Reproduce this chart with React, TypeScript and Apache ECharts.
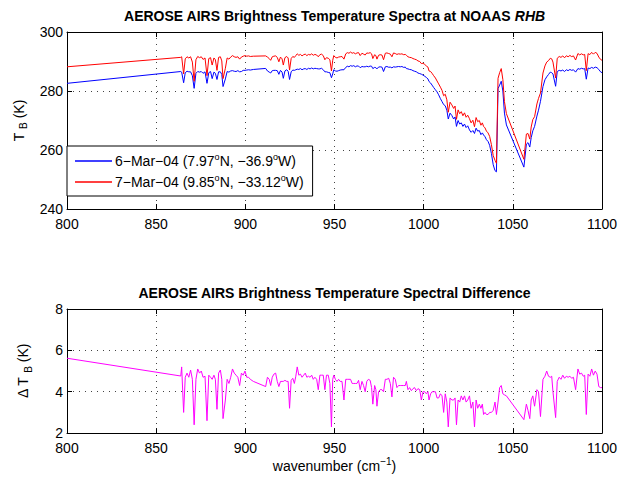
import React, { useEffect, useRef } from 'react';
import * as echarts from 'echarts';

// Wavenumber channels (cm^-1)
const wavenumber = [
  // 800 – 911
  800, 863.8, 864.3, 865.4, 866.3, 867.3, 868.3, 869.3, 870.3, 871.3,
  872.3, 873.3, 874.3, 875.3, 876.3, 877.4, 878.5, 879.5, 880.5, 881.4,
  882.4, 883.2, 884.1, 885.0, 886.0, 886.8, 887.5, 888.8, 889.8, 890.8,
  891.8, 892.8, 893.8, 894.8, 895.8, 896.8, 897.8, 898.8, 899.8, 900.8,
  901.8, 902.8, 904.5, 911.4,
  // 912 – 956
  912.4, 913.4, 914.2, 915.1, 916.0, 917.0, 917.9, 918.8, 919.7, 920.6,
  921.3, 922.2, 923.2, 924.0, 924.8, 925.7, 926.6, 927.5, 928.3, 929.1,
  930.0, 930.9, 931.8, 932.7, 933.6, 934.5, 935.4, 936.3, 937.2, 938.1,
  939.0, 940.0, 940.9, 941.8, 942.7, 943.7, 944.6, 945.5, 946.5, 947.4,
  948.3, 949.0, 949.6, 950.5, 951.4, 952.3, 953.2, 954.2, 955.3, 956.3,
  // 957 – 1000
  957.2, 958.1, 959.0, 959.9, 960.8, 961.7, 962.6, 963.5, 964.4, 965.4,
  966.3, 967.2, 968.1, 969.0, 970.0, 970.8, 971.5, 972.5, 973.2, 973.8,
  974.7, 975.6, 976.6, 977.5, 978.5, 979.4, 980.4, 981.3, 982.2, 983.1,
  984.1, 985.0, 985.9, 986.9, 987.8, 988.8, 989.7, 990.3, 991.2, 992.1,
  993.1, 994.0, 994.9, 995.9, 996.8, 997.8, 998.7, 999.6,
  // 1000 – 1046
  1000.6, 1001.5, 1002.4, 1003.0, 1003.9, 1004.7, 1005.6, 1006.6, 1007.5, 1008.4,
  1009.4, 1010.3, 1011.2, 1012.1, 1013.0, 1013.8, 1014.8, 1015.8, 1016.8, 1017.6,
  1018.4, 1019.3, 1020.2, 1021.1, 1022.0, 1022.9, 1023.8, 1024.7, 1025.7, 1026.6,
  1027.6, 1028.5, 1029.4, 1030.3, 1031.2, 1032.1, 1032.9, 1033.6, 1034.4, 1035.2,
  1036.1, 1037.0, 1038.0, 1039.0, 1040.0, 1040.8, 1041.7, 1042.6, 1043.5, 1044.4,
  1045.3, 1046.4,
  // 1056 – 1100
  1056.2, 1057.6, 1058.5, 1059.5, 1060.3, 1061.2, 1062.2, 1063.5, 1064.4, 1065.5,
  1066.9, 1068.0, 1069.0, 1070.0, 1071.0, 1071.8, 1072.5, 1074.0, 1074.9, 1076.0,
  1077.0, 1078.0, 1079.0, 1080.0, 1081.0, 1082.0, 1083.0, 1084.0, 1085.2, 1086.5,
  1087.5, 1088.5, 1089.5, 1090.3, 1091.2, 1092.2, 1093.2, 1094.2, 1095.2, 1096.2,
  1097.2, 1098.2, 1099.2, 1100,
];

// 6-Mar-04 brightness temperature (K), blue
const tb6Mar = [
  282.6, 286.6, 286.4, 282.8, 286.2, 286.7, 286.5, 286.5, 285.2, 280.9,
  286.0, 286.6, 286.4, 286.6, 286.0, 286.5, 282.6, 286.2, 286.6, 284.2,
  286.4, 286.0, 283.9, 286.5, 286.5, 285.6, 281.5, 284.1, 286.6, 286.4,
  286.8, 286.9, 286.7, 286.6, 286.9, 286.5, 286.6, 287.0, 287.0, 287.1,
  287.2, 287.1, 287.3, 287.65,
  286.8, 286.4, 286.1, 286.9, 287.0, 287.0, 286.9, 285.65, 287.0, 286.4,
  284.3, 286.8, 287.2, 286.7, 283.9, 286.5, 287.1, 287.0, 287.2, 287.4,
  287.3, 287.6, 287.2, 287.5, 287.6, 287.3, 287.7, 287.5, 287.8, 287.5,
  287.7, 287.6, 287.5, 287.5, 287.7, 287.2, 286.5, 286.5, 286.3, 286.2,
  284.5, 285.8, 287.2, 286.8, 286.7, 286.9, 287.1, 287.2, 287.2, 288.0,
  288.4, 288.2, 288.6, 288.4, 288.6, 288.2, 288.5, 288.45, 287.9, 288.3,
  288.2, 288.2, 288.4, 288.2, 288.45, 288.4, 287.6, 288.0, 287.9, 287.5,
  288.1, 288.2, 288.1, 286.6, 288.2, 288.3, 288.05, 288.1, 287.85, 288.2,
  288.1, 288.2, 288.3, 288.2, 288.3, 288.0, 288.1, 287.6, 287.5, 287.3,
  287.2, 286.9, 286.7, 286.5, 286.1, 285.9, 285.7, 285.4,
  285.0, 284.6, 284.1, 283.2, 282.7, 282.0, 281.2, 280.4, 279.7, 278.7,
  277.4, 276.4, 275.4, 275.0, 273.5, 270.5, 272.5, 271.7, 270.5, 271.2,
  268.0, 270.0, 268.8, 269.2, 268.0, 268.8, 267.6, 268.2, 266.8, 266.0,
  266.6, 265.6, 267.4, 266.4, 266.6, 265.2, 265.8, 265.1, 264.5, 263.5,
  262.9, 261.6, 258.8, 255.0, 253.0, 252.6, 280.8, 282.0, 283.3, 280.0,
  272.5, 268.5,
  254.2, 262.0, 262.5, 261.0, 264.2, 266.5, 268.0, 271.5, 273.5, 276.5,
  281.5, 283.8, 284.8, 285.6, 286.4, 286.2, 285.8, 281.6, 286.6, 287.0,
  286.8, 287.1, 286.6, 287.2, 286.9, 287.3, 287.0, 287.2, 286.4, 287.6,
  287.4, 287.7, 287.5, 287.6, 284.0, 287.8, 287.6, 288.0, 287.7, 288.1,
  287.9, 287.3, 286.5, 286.2,
];

// 7-Mar-04 brightness temperature (K), red
const tb7Mar = [
  288.2, 291.4, 291.6, 285.8, 290.9, 291.6, 291.2, 291.6, 289.8, 283.3,
  290.6, 291.7, 291.3, 291.6, 290.7, 291.2, 285.2, 291.0, 291.3, 288.8,
  291.2, 290.6, 287.0, 291.4, 291.6, 290.2, 284.2, 287.7, 291.2, 290.8,
  291.5, 292.0, 291.6, 291.4, 291.6, 290.8, 291.5, 291.8, 292.0, 291.8,
  291.9, 291.7, 291.8, 291.9,
  291.5, 291.0, 290.4, 291.6, 291.8, 291.9, 291.4, 289.9, 291.5, 290.9,
  288.8, 291.3, 291.7, 291.2, 287.1, 291.0, 291.7, 291.4, 292.0, 292.6,
  292.1, 292.4, 291.9, 292.3, 292.5, 292.0, 292.4, 292.2, 292.6, 292.1,
  292.4, 292.2, 291.6, 292.3, 292.5, 292.0, 290.6, 291.3, 291.1, 290.6,
  286.8, 290.4, 292.0, 291.4, 291.2, 291.5, 291.6, 291.7, 290.8, 292.6,
  293.0, 292.8, 293.2, 292.8, 293.0, 292.6, 292.9, 293.0, 292.0, 292.8,
  292.5, 292.2, 292.9, 292.8, 293.0, 292.6, 291.0, 292.3, 292.0, 290.8,
  292.1, 292.3, 292.2, 290.6, 292.8, 292.9, 292.7, 292.5, 291.6, 292.9,
  292.7, 292.4, 292.6, 292.5, 292.6, 292.3, 292.4, 292.1, 291.6, 291.4,
  291.3, 291.0, 290.8, 290.6, 290.2, 290.0, 289.3, 289.4,
  289.0, 288.5, 288.1, 286.8, 286.6, 286.0, 285.2, 284.4, 283.4, 282.4,
  281.3, 280.2, 278.4, 278.9, 277.0, 272.8, 276.2, 275.3, 274.1, 274.9,
  270.4, 273.6, 272.3, 273.0, 271.6, 272.6, 271.1, 271.8, 270.6, 269.2,
  270.1, 267.9, 271.0, 269.6, 270.0, 268.4, 269.2, 268.0, 267.5, 266.4,
  265.8, 264.6, 261.8, 258.1, 256.5, 255.5, 284.3, 286.2, 287.6, 283.9,
  276.4, 272.3,
  256.85, 265.4, 265.6, 263.7, 267.8, 270.3, 271.3, 275.6, 277.5, 279.3,
  286.1, 288.5, 289.8, 290.3, 291.1, 290.9, 289.8, 284.4, 291.1, 291.7,
  291.4, 291.9, 291.25, 291.95, 291.6, 292.05, 291.65, 291.9, 290.5, 292.7,
  292.25, 292.6, 292.25, 292.4, 286.9, 292.65, 292.35, 293.1, 292.5, 293.1,
  292.75, 291.5, 290.7, 290.4,
];

// Spectral difference ΔT_B (K), magenta
const tbDiff = [
  5.62, 4.76, 5.2, 3.0, 4.7, 4.9, 4.7, 5.05, 4.6, 2.4,
  4.6, 5.1, 4.9, 5.0, 4.7, 4.75, 2.6, 4.8, 4.7, 4.6,
  4.8, 4.6, 3.15, 4.9, 5.05, 4.6, 2.7, 3.6, 4.6, 4.4,
  4.7, 5.1, 4.9, 4.8, 4.7, 4.3, 4.9, 4.8, 5.0, 4.7,
  4.7, 4.6, 4.5, 4.25,
  4.7, 4.6, 4.3, 4.7, 4.85, 4.9, 4.5, 4.25, 4.5, 4.5,
  4.5, 4.55, 4.5, 4.5, 3.2, 4.55, 4.65, 4.4, 4.75, 5.2,
  4.8, 4.85, 4.7, 4.8, 4.9, 4.7, 4.75, 4.7, 4.8, 4.6,
  4.7, 4.6, 4.1, 4.8, 4.8, 4.8, 4.1, 4.8, 4.8, 4.4,
  2.3, 4.6, 4.8, 4.6, 4.5, 4.6, 4.5, 4.5, 3.6, 4.6,
  4.6, 4.6, 4.6, 4.4, 4.4, 4.4, 4.4, 4.55, 4.1, 4.5,
  4.3, 4.0, 4.5, 4.6, 4.55, 4.2, 3.4, 4.3, 4.1, 3.3,
  4.0, 4.1, 4.1, 4.0, 4.6, 4.6, 4.65, 4.4, 3.75, 4.7,
  4.6, 4.2, 4.3, 4.3, 4.3, 4.3, 4.3, 4.5, 4.1, 4.2,
  4.05, 4.15, 4.2, 4.05, 4.15, 4.1, 3.6, 4.0,
  4.0, 3.9, 4.0, 3.6, 3.9, 4.0, 4.0, 4.0, 3.7, 3.7,
  3.9, 3.8, 3.0, 3.9, 3.5, 2.3, 3.7, 3.6, 3.6, 3.7,
  2.4, 3.6, 3.5, 3.8, 3.6, 3.8, 3.5, 3.6, 3.8, 3.2,
  3.5, 2.3, 3.6, 3.2, 3.4, 3.2, 3.4, 2.9, 3.0, 2.9,
  2.9, 3.0, 3.0, 3.1, 3.5, 2.9, 3.5, 4.2, 4.3, 3.9,
  3.85, 3.8,
  2.65, 3.4, 3.1, 2.7, 3.6, 3.8, 3.3, 4.1, 4.0, 2.8,
  4.6, 4.75, 5.0, 4.75, 4.7, 4.75, 4.0, 2.75, 4.5, 4.7,
  4.6, 4.8, 4.65, 4.75, 4.7, 4.75, 4.65, 4.7, 4.1, 5.1,
  4.85, 4.9, 4.75, 4.8, 2.9, 4.85, 4.75, 5.1, 4.8, 5.0,
  4.85, 4.25, 4.2, 4.2,
];

// Axis ticks
const xRange = { min: 800, max: 1100, interval: 50 };
const tbRange = { min: 240, max: 300, interval: 20 };
const diffRange = { min: 2, max: 8, interval: 2 };

const seriesNames = ['6−Mar−04', '7−Mar−04'];
const legendLabels: Record<string, string> = {
  '6−Mar−04': '6−Mar−04 (7.97{sup|o}N, −36.9{sup|o}W)',
  '7−Mar−04': '7−Mar−04 (9.85{sup|o}N, −33.12{sup|o}W)',
};

const FONT = '"Liberation Sans", Arial, Helvetica, sans-serif';
const FS = 14;

function pairs(ys: number[]) {
  return wavenumber.map((w, i) => [w, ys[i]]);
}

const plainNumber = (v: number) => String(v);

function xAxes(gridIndex: number, withName: boolean) {
  const common = {
    type: 'value' as const,
    gridIndex,
    min: xRange.min,
    max: xRange.max,
    interval: xRange.interval,
    axisLine: { show: true, onZero: false, lineStyle: { color: '#000', width: 1 } },
    axisTick: { show: true, inside: true, length: 5, lineStyle: { color: '#000', width: 1 } },
  };
  return [
    {
      ...common,
      position: 'bottom',
      axisLabel: {
        color: '#000', fontSize: FS, fontFamily: FONT, margin: 8,
        showMinLabel: true, showMaxLabel: true, formatter: plainNumber,
      },
      splitLine: { show: true, lineStyle: { type: [1, 5], color: '#444', width: 1 } },
      ...(withName
        ? {
            name: 'wavenumber (cm{sup|−1})',
            nameLocation: 'middle',
            nameGap: 20,
            nameTextStyle: {
              color: '#000', fontSize: FS, fontFamily: FONT, lineHeight: 20,
              rich: { sup: { fontSize: 10, fontFamily: FONT, lineHeight: 10, verticalAlign: 'top', color: '#000' } },
            },
          }
        : {}),
    },
    {
      ...common,
      position: 'top',
      axisLabel: { show: false },
      splitLine: { show: false },
    },
  ];
}

function yAxes(gridIndex: number, range: { min: number; max: number; interval: number }, name: string) {
  const common = {
    type: 'value' as const,
    gridIndex,
    min: range.min,
    max: range.max,
    interval: range.interval,
    axisLine: { show: true, onZero: false, lineStyle: { color: '#000', width: 1 } },
    axisTick: { show: true, inside: true, length: 5, lineStyle: { color: '#000', width: 1 } },
  };
  return [
    {
      ...common,
      position: 'left',
      axisLabel: {
        color: '#000', fontSize: FS, fontFamily: FONT, margin: 4,
        showMinLabel: true, showMaxLabel: true, formatter: plainNumber,
      },
      splitLine: { show: true, lineStyle: { type: [1, 5], color: '#444', width: 1 } },
      name,
      nameLocation: 'middle',
      nameRotate: 90,
      nameGap: 34,
      nameTextStyle: {
        color: '#000', fontSize: FS, fontFamily: FONT, lineHeight: 20,
        rich: {
          n: { fontSize: FS, fontFamily: FONT, lineHeight: 20, color: '#000' },
          sub: { fontSize: 10, fontFamily: FONT, lineHeight: 10, verticalAlign: 'bottom', color: '#000' },
        },
      },
    },
    {
      ...common,
      position: 'right',
      axisLabel: { show: false },
      splitLine: { show: false },
    },
  ];
}

function buildOption(): any {
  return {
    animation: false,
    backgroundColor: '#fff',
    textStyle: { fontFamily: FONT },
    grid: [
      { left: 67, top: 32, width: 535, height: 177 },
      { left: 67, top: 309, width: 535, height: 126 },
    ],
    graphic: [
      {
        type: 'text',
        x: 334.5,
        y: 16,
        style: {
          text: '{b|AEROSE AIRS Brightness Temperature Spectra at NOAAS }{bi|RHB}',
          align: 'center',
          verticalAlign: 'middle',
          rich: {
            b: { fontSize: FS, fontWeight: 'bold', fontFamily: FONT, fill: '#000' },
            bi: { fontSize: FS, fontWeight: 'bold', fontStyle: 'italic', fontFamily: FONT, fill: '#000' },
          },
        },
      },
      {
        type: 'text',
        x: 334.5,
        y: 293,
        style: {
          text: 'AEROSE AIRS Brightness Temperature Spectral Difference',
          align: 'center',
          verticalAlign: 'middle',
          fontSize: FS,
          fontWeight: 'bold',
          fontFamily: FONT,
          fill: '#000',
        },
      },
    ],
    legend: {
      data: seriesNames,
      orient: 'vertical',
      left: 67,
      top: 146,
      padding: [6, 9, 5, 8],
      itemGap: 3,
      itemWidth: 37,
      itemHeight: 1.5,
      icon: 'rect',
      borderColor: '#000',
      borderWidth: 1,
      borderRadius: 0,
      backgroundColor: '#fff',
      formatter: (name: string) => legendLabels[name] || name,
      textStyle: {
        color: '#000',
        fontSize: FS,
        fontFamily: FONT,
        lineHeight: 18,
        padding: [0, 0, 0, -2],
        rich: {
          sup: { fontSize: 9, fontFamily: FONT, lineHeight: 9, verticalAlign: 'top', color: '#000' },
        },
      },
    },
    xAxis: [...xAxes(0, false), ...xAxes(1, true)],
    yAxis: [
      ...yAxes(0, tbRange, '{n|T} {sub|B} (K)'),
      ...yAxes(1, diffRange, '{n|Δ T} {sub|B} (K)'),
    ],
    series: [
      {
        name: seriesNames[0],
        type: 'line',
        xAxisIndex: 0,
        yAxisIndex: 0,
        data: pairs(tb6Mar),
        symbol: 'none',
        color: '#0000ff',
        lineStyle: { color: '#0000ff', width: 1 },
        itemStyle: { color: '#0000ff' },
      },
      {
        name: seriesNames[1],
        type: 'line',
        xAxisIndex: 0,
        yAxisIndex: 0,
        data: pairs(tb7Mar),
        symbol: 'none',
        color: '#ff0000',
        lineStyle: { color: '#ff0000', width: 1 },
        itemStyle: { color: '#ff0000' },
      },
      {
        name: 'ΔT_B',
        type: 'line',
        xAxisIndex: 2,
        yAxisIndex: 2,
        data: pairs(tbDiff),
        symbol: 'none',
        color: '#ff00ff',
        lineStyle: { color: '#ff00ff', width: 1 },
        itemStyle: { color: '#ff00ff' },
      },
    ],
  };
}

export default function App() {
  const ref = useRef<HTMLDivElement>(null);
  useEffect(() => {
    if (!ref.current) return;
    const chart = echarts.init(ref.current, null, { renderer: 'svg' });
    chart.setOption(buildOption());
    return () => chart.dispose();
  }, []);
  return (
    <div
      ref={ref}
      style={{ position: 'absolute', left: 0, top: 0, width: 630, height: 477, background: '#fff' }}
    />
  );
}
